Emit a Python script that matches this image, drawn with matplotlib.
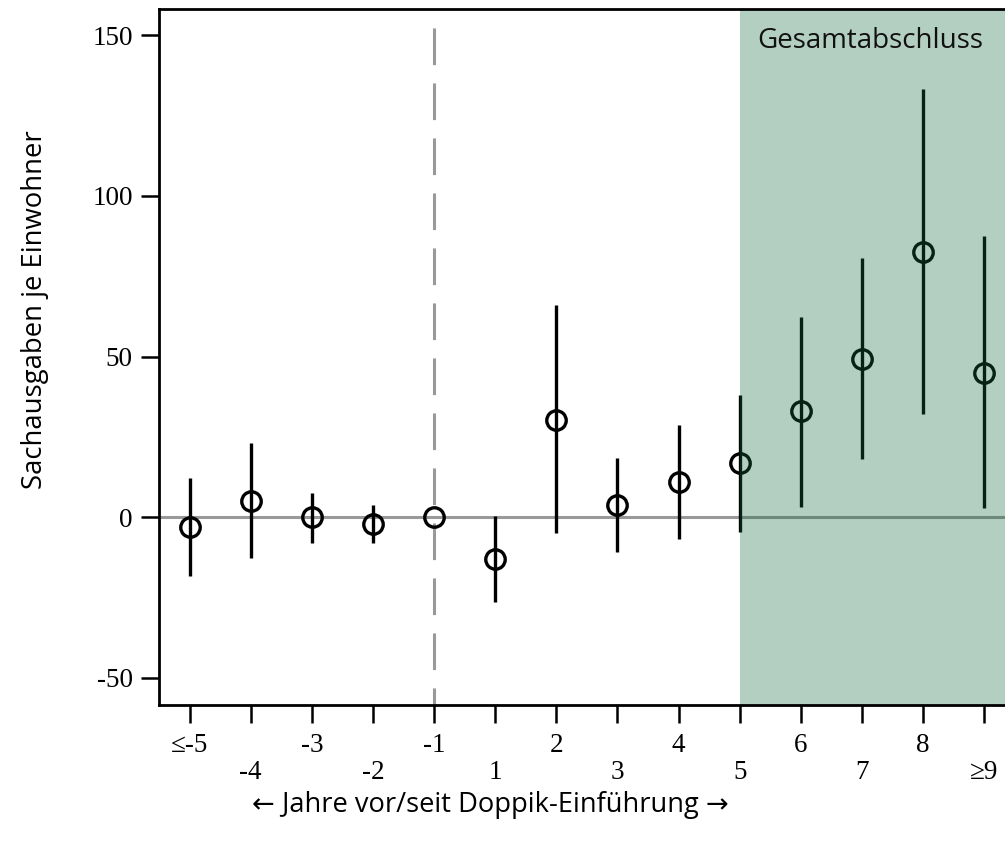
import matplotlib
matplotlib.use("Agg")
import matplotlib.pyplot as plt
import matplotlib.transforms as mtransforms
import numpy as np

# Event-study estimates
labels = ["≤-5", "-4", "-3", "-2", "-1", "1", "2", "3", "4", "5", "6", "7", "8", "≥9"]
coef = [-3.0, 5.1, 0.1, -2.2, 0.0, -13.1, 30.4, 3.9, 11.0, 16.9, 32.9, 49.3, 82.6, 44.9]
ci_low = [-18.3, -12.8, -8.0, -8.0, 0.0, -26.5, -4.8, -10.8, -6.9, -4.6, 3.2, 18.2, 32.2, 2.9]
ci_high = [12.2, 23.2, 7.4, 3.9, 0.0, 0.3, 66.1, 18.4, 28.8, 37.9, 62.4, 80.5, 133.1, 87.4]
yticks = [-50, 0, 50, 100, 150]

serif = ["Liberation Serif", "DejaVu Serif"]
sans = ["Open Sans", "DejaVu Sans"]

fig = plt.figure(figsize=(10.05, 8.56), dpi=100)
ax = fig.add_axes([159 / 1005, 1 - 705 / 856, 1 - 159 / 1005, (705 - 9) / 856])

x = np.arange(len(labels))
ax.set_xlim(-0.5, 13.34)
ax.set_ylim(-58.4, 158.1)

# reference lines
ax.axhline(0, color="#999999", lw=2.2, zorder=1)
ax.plot([4, 4], [158.1, -58.4], color="#999999", lw=2.2,
        linestyle=(11.8, (12, 6)), zorder=1)

# confidence intervals and point estimates
ax.vlines(x, ci_low, ci_high, color="black", lw=2.4, zorder=2)
ax.plot(x, coef, "o", ms=14, mfc="none", mec="black", mew=2.4, zorder=3)

# shaded period
ax.axvspan(9, 14, color=(19 / 255, 106 / 255, 66 / 255), alpha=0.32, lw=0, zorder=4)
ax.text(11.14, 148, "Gesamtabschluss", family=sans, fontsize=20,
        ha="center", va="center", color="#111111", zorder=5)

ax.set_xticks(x)
ax.set_xticklabels(labels, family=serif, fontsize=19.5)
ax.set_yticks(yticks)
ax.set_yticklabels([str(v) for v in yticks], family=serif, fontsize=19.5)
ax.tick_params(length=13, width=1.8, color="black")
ax.tick_params(axis="x", pad=7)
ax.tick_params(axis="y", pad=6)

# every other x label goes on a second row
shift = mtransforms.ScaledTranslation(0, -0.27, fig.dpi_scale_trans)
for i, lab in enumerate(ax.get_xticklabels()):
    if i % 2 == 1:
        lab.set_transform(lab.get_transform() + shift)

for s in ["left", "bottom", "top"]:
    ax.spines[s].set_linewidth(2.0)
    ax.spines[s].set_zorder(6)
ax.spines["right"].set_visible(False)

fig.text(35 / 1005, 1 - 310 / 856, "Sachausgaben je Einwohner", family=sans,
         fontsize=19.8, rotation=90, ha="center", va="center")
fig.text(490 / 1005, 1 - 805 / 856, "← Jahre vor/seit Doppik-Einführung →",
         family=sans, fontsize=19.6, ha="center", va="center")

fig.savefig("out.png", dpi=100)
